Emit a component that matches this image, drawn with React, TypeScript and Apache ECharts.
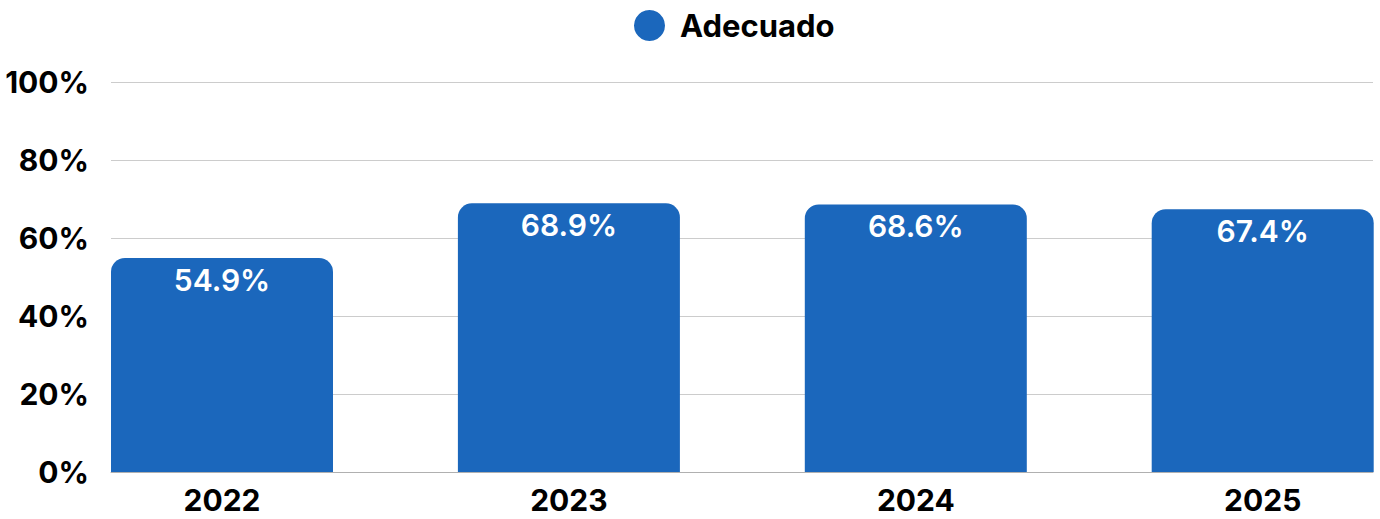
import React, { useEffect, useRef } from "react";
import * as echarts from "echarts";

const categories = ["2022", "2023", "2024", "2025"];
const adecuado = [54.9, 68.9, 68.6, 67.4];
const seriesName = "Adecuado";

const FONT = "Inter";

export default function App() {
  const ref = useRef<HTMLDivElement>(null);
  useEffect(() => {
    if (!ref.current) return;
    const chart = echarts.init(ref.current, undefined, { renderer: "svg" });
    chart.setOption({
      animation: false,
      textStyle: { fontFamily: FONT },
      legend: {
        top: 5,
        left: 629,
        icon: "circle",
        itemWidth: 31,
        itemHeight: 31,
        data: [seriesName],
        textStyle: {
          fontFamily: FONT,
          fontSize: 31,
          fontWeight: "bold",
          color: "#000",
          padding: [0, 0, 0, 10],
        },
      },
      grid: [
        { left: 111, right: 7, top: 82, bottom: 47 },
        { left: 222, right: 117.3, top: 82, bottom: 47 },
      ],
      xAxis: [
        {
          type: "category",
          gridIndex: 0,
          data: categories,
          axisLine: { show: true, lineStyle: { color: "#b0b0b0", width: 1 } },
          axisTick: { show: false },
          axisLabel: { show: false },
        },
        {
          type: "category",
          gridIndex: 1,
          data: categories,
          boundaryGap: false,
          axisLine: { show: false },
          axisTick: { show: false },
          splitLine: { show: false },
          axisLabel: {
            margin: 13,
            fontFamily: FONT,
            fontSize: 30,
            fontWeight: "bold",
            color: "#000",
          },
        },
      ],
      yAxis: [
        {
          type: "value",
          gridIndex: 0,
          min: 0,
          max: 100,
          interval: 20,
          axisLine: { show: false },
          axisTick: { show: false },
          splitLine: { lineStyle: { color: "#cccccc", width: 1 } },
          axisLabel: {
            margin: 22,
            formatter: "{value}%",
            fontFamily: FONT,
            fontSize: 30,
            fontWeight: "bold",
            color: "#000",
          },
        },
        {
          type: "value",
          gridIndex: 1,
          min: 0,
          max: 100,
          show: false,
        },
      ],
      series: [
        {
          name: seriesName,
          type: "bar",
          xAxisIndex: 1,
          yAxisIndex: 1,
          data: adecuado,
          barWidth: 222,
          clip: false,
          itemStyle: { color: "#1B67BC", borderRadius: [14, 14, 0, 0] },
          label: {
            show: true,
            position: "insideTop",
            distance: 7,
            formatter: (p: any) => p.value.toFixed(1) + "%",
            fontFamily: FONT,
            fontSize: 30,
            fontWeight: 600,
            color: "#fff",
          },
        },
      ],
    });
    return () => chart.dispose();
  }, []);
  return <div ref={ref} style={{ width: 1380, height: 519, position: "absolute", left: 0, top: 0 }} />;
}
